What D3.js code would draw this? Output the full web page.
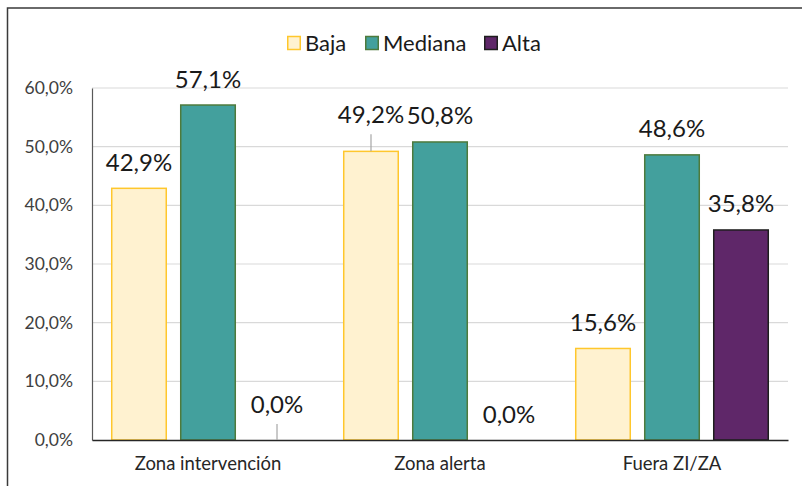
<!DOCTYPE html>
<html>
<head>
<meta charset="utf-8">
<script src="https://cdn.jsdelivr.net/npm/d3@7"></script>
<style>
  html, body { margin: 0; padding: 0; background: #ffffff; }
  svg { display: block; }
  text { font-family: Lato, "Open Sans", sans-serif; }
</style>
</head>
<body>
<svg id="chart" width="802" height="486"></svg>
<script>
// ---- data ----
const categories = ["Zona intervención", "Zona alerta", "Fuera ZI/ZA"];
const seriesNames = ["Baja", "Mediana", "Alta"];
const baja    = [42.9, 49.2, 15.6];
const mediana = [57.1, 50.8, 48.6];
const alta    = [0.0, 0.0, 35.8];
const yTicks  = [0, 10, 20, 30, 40, 50, 60];

// ---- styles ----
const fills   = { Baja: "#FFF2D0", Mediana: "#43A09D", Alta: "#5F2769" };
const strokes = { Baja: "#FFC72C", Mediana: "#4E7A3C", Alta: "#1E1E1E" };
// label placement tweaks (px above bar top, leader line)
const labelOffset = { "Zona alerta|Baja": 28, "Zona intervención|Alta": 27 };
const leader = { "Zona alerta|Baja": true, "Zona intervención|Alta": true };

const seriesValues = { Baja: baja, Mediana: mediana, Alta: alta };

const svg = d3.select("#chart");
const W = 802, H = 486;
const plot = { left: 92, right: 788, top: 88, bottom: 440 };

// outer frame
svg.append("rect")
  .attr("x", 7.5).attr("y", 8).attr("width", W + 20).attr("height", H + 20)
  .attr("fill", "none").attr("stroke", "#3a3a3a").attr("stroke-width", 1.5);

const x0 = d3.scaleBand().domain(categories).range([plot.left, plot.right]).padding(0);
const x1 = d3.scaleBand().domain(seriesNames).range([0, x0.bandwidth()])
  .paddingInner(0.188).paddingOuter(0.275);
const y = d3.scaleLinear().domain([0, 60]).range([plot.bottom, plot.top]);

const fmt = v => d3.format(".1f")(v).replace(".", ",") + "%";

// gridlines
svg.append("g").selectAll("line").data(yTicks.filter(t => t > 0)).join("line")
  .attr("x1", plot.left).attr("x2", plot.right)
  .attr("y1", d => y(d)).attr("y2", d => y(d))
  .attr("stroke", "#d9d9d9").attr("stroke-width", 1.2);

// y axis
const yAxis = d3.axisLeft(y).tickValues(yTicks).tickFormat(fmt).tickSize(0).tickPadding(19);
const gy = svg.append("g").attr("transform", `translate(${plot.left},0)`).call(yAxis);
gy.select(".domain").attr("stroke", "#595959").attr("stroke-width", 1.2);
gy.selectAll("text").attr("font-size", "17.5px").attr("fill", "#404040")
  .attr("font-family", "Lato, sans-serif");

// bars
const rows = [];
categories.forEach((c, i) => seriesNames.forEach(s => rows.push({ cat: c, s, v: seriesValues[s][i] })));

svg.append("g").selectAll("rect").data(rows.filter(d => d.v > 0)).join("rect")
  .attr("x", d => x0(d.cat) + x1(d.s) + 0.75)
  .attr("width", x1.bandwidth() - 1.5)
  .attr("y", d => y(d.v))
  .attr("height", d => y(0) - y(d.v))
  .attr("fill", d => fills[d.s])
  .attr("stroke", d => strokes[d.s])
  .attr("stroke-width", 1.5);

// x axis baseline + labels
const xAxis = d3.axisBottom(x0).tickSize(0).tickPadding(17);
const gx = svg.append("g").attr("transform", `translate(0,${plot.bottom})`).call(xAxis);
gx.select(".domain").attr("stroke", "#262626").attr("stroke-width", 1.5);
gx.selectAll("text").attr("font-size", "18.5px").attr("fill", "#262626")
  .attr("font-family", "Lato, sans-serif");

// data labels
const lg = svg.append("g");
rows.forEach(d => {
  const key = d.cat + "|" + d.s;
  const off = labelOffset[key] || 17.5;
  const cx = x0(d.cat) + x1(d.s) + x1.bandwidth() / 2;
  const by = y(d.v);
  lg.append("text").attr("x", cx).attr("y", by - off)
    .attr("text-anchor", "middle").attr("font-size", "24px").attr("fill", "#1a1a1a")
    .text(fmt(d.v));
  if (leader[key]) {
    lg.append("line").attr("x1", cx).attr("x2", cx)
      .attr("y1", by - off + 11).attr("y2", by)
      .attr("stroke", "#a6a6a6").attr("stroke-width", 1.2);
  }
});

// legend
const legendX = { Baja: 287, Mediana: 365, Alta: 484 };
const leg = svg.append("g");
seriesNames.forEach(s => {
  leg.append("rect").attr("x", legendX[s] + 0.75).attr("y", 36.5)
    .attr("width", 12.5).attr("height", 13)
    .attr("fill", fills[s]).attr("stroke", strokes[s]).attr("stroke-width", 1.5);
  leg.append("text").attr("x", legendX[s] + 18).attr("y", 43).attr("dy", "0.36em")
    .attr("font-size", "22px").attr("fill", "#1a1a1a").text(s);
});
</script>
</body>
</html>
